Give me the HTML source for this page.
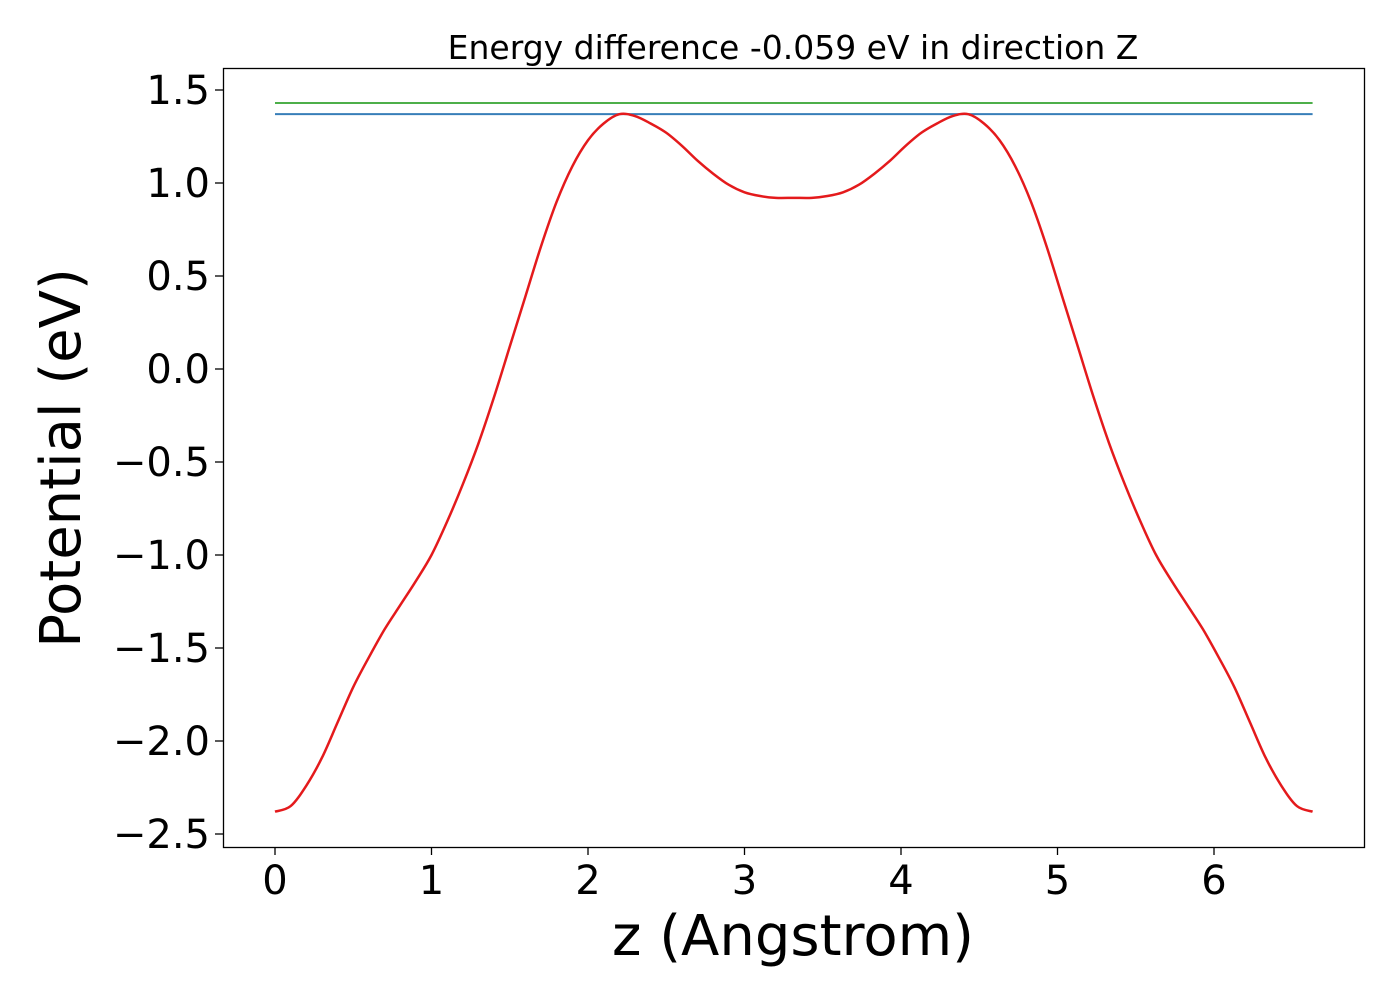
<!DOCTYPE html>
<html><head><meta charset="utf-8"><style>
html,body{margin:0;padding:0;background:#fff;}
svg text{font-family:"DejaVu Sans","Liberation Sans",sans-serif;fill:#000;}
</style></head><body>
<svg id="chart" width="1400" height="1000" viewBox="0 0 1400 1000" xmlns="http://www.w3.org/2000/svg">
<rect width="1400" height="1000" fill="#fff"/>
<text x="793" y="59" font-size="33" text-anchor="middle">Energy difference -0.059 eV in direction Z</text>
<g id="plot"></g>
<rect x="223.5" y="68.5" width="1141" height="779" fill="none" stroke="#000" stroke-width="1.3"/>
<text x="793" y="955" font-size="56" text-anchor="middle">z (Angstrom)</text>
<text transform="translate(80,458) rotate(-90)" font-size="56" text-anchor="middle">Potential (eV)</text>
</svg>
<script>
const leftZ=[0,0.1,0.2,0.3,0.4,0.5,0.6,0.7,0.8,0.9,1.0,1.1,1.2,1.3,1.4,1.5,1.6,1.7,1.8,1.9,2.0,2.1,2.2,2.3,2.4,2.5,2.6,2.7,2.8,2.9,3.0,3.1,3.2,3.3];
const leftV=[-2.38,-2.35,-2.24,-2.09,-1.90,-1.71,-1.55,-1.40,-1.27,-1.14,-1.00,-0.82,-0.62,-0.40,-0.15,0.12,0.39,0.66,0.90,1.09,1.23,1.32,1.37,1.36,1.32,1.27,1.20,1.12,1.05,0.99,0.95,0.93,0.92,0.92];
const zMax=6.63;
const greenLevel=1.43, blueLevel=1.37;
const xTicks=[0,1,2,3,4,5,6];
const yTicks=[1.5,1.0,0.5,0.0,-0.5,-1.0,-1.5,-2.0,-2.5];

const X=z=>275+z*156.5;
const Y=v=>369-v*186;
const NS="http://www.w3.org/2000/svg";
const g=document.getElementById('plot');
function mk(t,a){const e=document.createElementNS(NS,t);for(const k in a)e.setAttribute(k,a[k]);g.appendChild(e);return e;}

// build full series (mirror of left half)
const zs=leftZ.slice(), vs=leftV.slice();
for(let i=leftZ.length-1;i>=0;i--){const z=zMax-leftZ[i]; if(z>zs[zs.length-1]+0.01){zs.push(z);vs.push(leftV[i]);}}

xTicks.forEach(t=>{
  const l=mk('line',{x1:X(t),x2:X(t),y1:847,y2:855,stroke:'#000','stroke-width':1.3});
  
  
  const tx=mk('text',{x:X(t),y:894,'font-size':40,'text-anchor':'middle'});
  tx.textContent=String(t);
  
  
});
yTicks.forEach(t=>{
  const l=mk('line',{x1:215,x2:223,y1:Y(t),y2:Y(t),stroke:'#000','stroke-width':1.3});
  
  
  const tx=mk('text',{x:210,y:Y(t)+14,'font-size':40,'text-anchor':'end'});
  tx.textContent=(t<0?'\u2212':'')+Math.abs(t).toFixed(1);
  
  
});

const gl=mk('line',{x1:X(0),x2:X(zMax),y1:Y(greenLevel),y2:Y(greenLevel),stroke:'#4daf4a','stroke-width':2});


const bl=mk('line',{x1:X(0),x2:X(zMax),y1:Y(blueLevel),y2:Y(blueLevel),stroke:'#377eb8','stroke-width':2});



// smooth path via Catmull-Rom
const pts=zs.map((z,i)=>[X(z),Y(vs[i])]);
let d='M'+pts[0][0]+','+pts[0][1];
for(let i=0;i<pts.length-1;i++){
  const p0=pts[Math.max(0,i-1)],p1=pts[i],p2=pts[i+1],p3=pts[Math.min(pts.length-1,i+2)];
  const c1=[p1[0]+(p2[0]-p0[0])/6,p1[1]+(p2[1]-p0[1])/6];
  const c2=[p2[0]-(p3[0]-p1[0])/6,p2[1]-(p3[1]-p1[1])/6];
  d+=` C${c1[0]},${c1[1]} ${c2[0]},${c2[1]} ${p2[0]},${p2[1]}`;
}
const pl=mk('path',{d:d,fill:'none',stroke:'#e41a1c','stroke-width':2.5});


</script>
</body></html>
